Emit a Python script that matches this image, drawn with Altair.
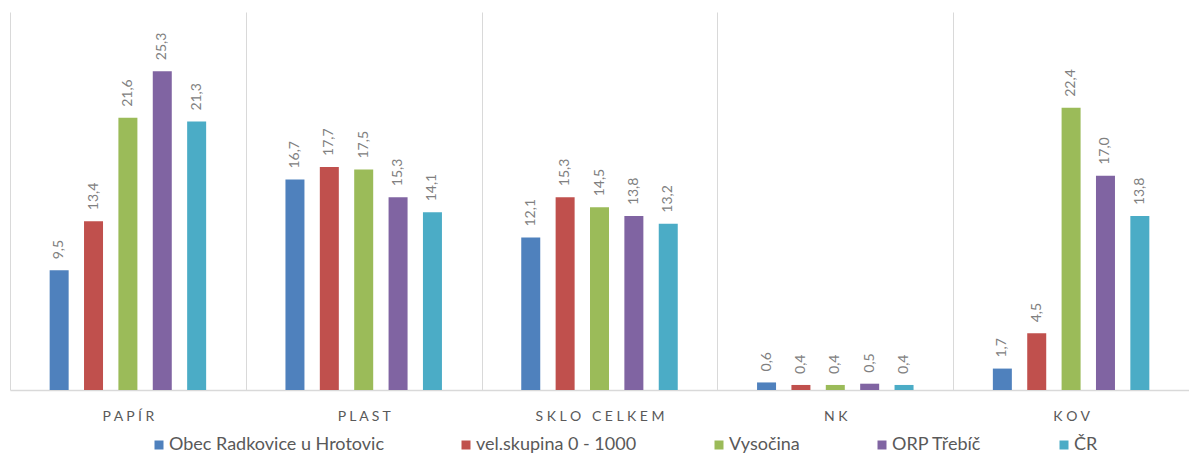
import altair as alt
import pandas as pd

categories = ["PAPÍR", "PLAST", "SKLO CELKEM", "NK", "KOV"]
series = ["Obec Radkovice u Hrotovic", "vel.skupina 0 - 1000", "Vysočina", "ORP Třebíč", "ČR"]
colors = ["#4F81BD", "#C0504D", "#9BBB59", "#8064A2", "#4BACC6"]

obec = [9.5, 16.7, 12.1, 0.6, 1.7]
velskupina = [13.4, 17.7, 15.3, 0.4, 4.5]
vysocina = [21.6, 17.5, 14.5, 0.4, 22.4]
orp = [25.3, 15.3, 13.8, 0.5, 17.0]
cr = [21.3, 14.1, 13.2, 0.4, 13.8]

values = [obec, velskupina, vysocina, orp, cr]


def spaced(name):
    # letter-spaced label, wider gap between words
    return "\u00a0\u00a0\u00a0".join(" ".join(w) for w in name.split(" "))


rows = []
for s, vals in zip(series, values):
    for c, v in zip(categories, vals):
        rows.append({
            "kat": spaced(c),
            "serie": s,
            "hodnota": v,
            "popis": f"{v:.1f}".replace(".", ","),
        })
df = pd.DataFrame(rows)
kat_order = [spaced(c) for c in categories]

FONT = "Lato"

base = alt.Chart(df).encode(
    x=alt.X(
        "kat:N",
        sort=kat_order,
        scale=alt.Scale(paddingInner=0, paddingOuter=0),
        axis=alt.Axis(
            title=None,
            labelAngle=0,
            ticks=False,
            tickBand="extent",
            grid=True,
            gridColor="#d9d9d9",
            gridWidth=1,
            domainColor="#d9d9d9",
            domainWidth=1.5,
            labelColor="#595959",
            labelFont=FONT,
            labelFontSize=14,
            labelPadding=19,
        ),
    ),
    xOffset=alt.XOffset(
        "serie:N",
        sort=series,
        scale=alt.Scale(paddingInner=0, paddingOuter=0.93),
    ),
    y=alt.Y("hodnota:Q", scale=alt.Scale(domain=[0, 30]), axis=None),
)

bars = base.mark_bar(width=19).encode(
    color=alt.Color(
        "serie:N",
        sort=series,
        scale=alt.Scale(domain=series, range=colors),
        legend=alt.Legend(
            title=None,
            orient="none",
            direction="horizontal",
            legendX=140,
            legendY=424,
            symbolType="square",
            symbolSize=81,
            symbolStrokeWidth=0,
            labelFont=FONT,
            labelFontSize=18,
            labelColor="#595959",
            labelOffset=1,
            columnPadding=73,
            padding=0,
            labelLimit=400,
        ),
    )
)

labels = base.mark_text(
    angle=270,
    align="left",
    baseline="middle",
    dx=11,
    font=FONT,
    fontSize=14,
    color="#808080",
).encode(text="popis:N")

chart = (
    alt.layer(bars, labels)
    .properties(
        width=1179,
        height=378,
        autosize=alt.AutoSizeParams(type="none"),
        padding={"left": 2, "top": 4, "right": 0, "bottom": 66},
    )
    .configure_view(stroke=None)
)

chart.save("out.html", embed_options={"renderer": "svg", "actions": False})
